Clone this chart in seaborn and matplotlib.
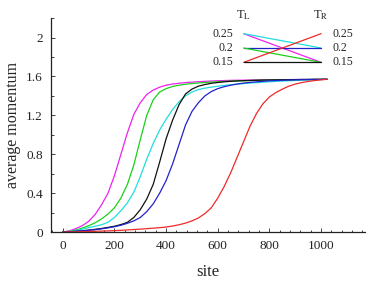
import matplotlib
matplotlib.use("Agg")
import matplotlib.pyplot as plt
import seaborn as sns
import pandas as pd
from matplotlib.ticker import MultipleLocator, FormatStrFormatter

# lattice sites where the momentum profile was read
site = list(range(0, 1001, 25)) + [1023]

# average momentum profiles, one per (T_L, T_R) pair
mom_magenta = [0, 0.012, 0.035, 0.065, 0.11, 0.18, 0.28, 0.40, 0.58, 0.80,
               1.02, 1.21, 1.33, 1.415, 1.46, 1.49, 1.51, 1.522, 1.53, 1.537,
               1.542, 1.546, 1.55, 1.553, 1.556, 1.558, 1.56, 1.561, 1.562, 1.563,
               1.564, 1.565, 1.566, 1.567, 1.567, 1.568, 1.568, 1.569, 1.569, 1.570,
               1.570, 1.571]
mom_green = [0, 0.008, 0.02, 0.04, 0.065, 0.095, 0.135, 0.185, 0.25, 0.35,
             0.49, 0.69, 0.95, 1.20, 1.36, 1.44, 1.475, 1.497, 1.51, 1.52,
             1.527, 1.533, 1.538, 1.542, 1.546, 1.549, 1.552, 1.554, 1.556, 1.558,
             1.56, 1.561, 1.562, 1.564, 1.565, 1.566, 1.567, 1.568, 1.569, 1.570,
             1.570, 1.571]
mom_cyan = [0, 0.005, 0.015, 0.03, 0.045, 0.06, 0.075, 0.10, 0.15, 0.22,
            0.30, 0.41, 0.57, 0.75, 0.91, 1.05, 1.16, 1.26, 1.34, 1.40,
            1.44, 1.465, 1.48, 1.49, 1.50, 1.508, 1.515, 1.521, 1.527, 1.532,
            1.537, 1.541, 1.545, 1.549, 1.553, 1.556, 1.559, 1.562, 1.565, 1.567,
            1.569, 1.571]
mom_black = [0, 0.003, 0.008, 0.013, 0.02, 0.028, 0.037, 0.048, 0.06, 0.077,
             0.10, 0.15, 0.23, 0.34, 0.49, 0.72, 0.96, 1.15, 1.31, 1.42,
             1.47, 1.50, 1.517, 1.53, 1.538, 1.545, 1.55, 1.554, 1.557, 1.559,
             1.561, 1.563, 1.564, 1.565, 1.566, 1.567, 1.568, 1.569, 1.569, 1.570,
             1.570, 1.571]
mom_blue = [0, 0.003, 0.007, 0.012, 0.018, 0.025, 0.033, 0.043, 0.055, 0.07,
            0.09, 0.115, 0.15, 0.21, 0.29, 0.40, 0.53, 0.70, 0.90, 1.10,
            1.24, 1.33, 1.40, 1.445, 1.475, 1.495, 1.51, 1.522, 1.532, 1.539,
            1.545, 1.55, 1.555, 1.558, 1.561, 1.563, 1.565, 1.567, 1.568, 1.569,
            1.570, 1.571]
mom_red = [0, 0.001, 0.002, 0.004, 0.006, 0.008, 0.01, 0.012, 0.015, 0.018,
           0.022, 0.026, 0.03, 0.035, 0.04, 0.045, 0.052, 0.062, 0.075, 0.092,
           0.115, 0.145, 0.19, 0.25, 0.35, 0.47, 0.61, 0.77, 0.93, 1.09,
           1.22, 1.32, 1.39, 1.435, 1.47, 1.50, 1.522, 1.537, 1.549, 1.558,
           1.565, 1.571]

# curve name -> (T_L, T_R)
temps = {
    "magenta": (0.25, 0.15),
    "cyan": (0.25, 0.2),
    "blue": (0.2, 0.2),
    "green": (0.2, 0.15),
    "red": (0.15, 0.25),
    "black": (0.15, 0.15),
}
palette = {
    "magenta": "#ee22ee",
    "green": "#1bd01b",
    "cyan": "#22dddd",
    "black": "#111111",
    "blue": "#2222cc",
    "red": "#ee2a2a",
}
t_labels = ["0.25", "0.2", "0.15"]

curves = {
    "magenta": mom_magenta, "green": mom_green, "cyan": mom_cyan,
    "black": mom_black, "blue": mom_blue, "red": mom_red,
}
df = pd.concat(
    [pd.DataFrame({"site": site, "momentum": v, "curve": k}) for k, v in curves.items()],
    ignore_index=True,
)

sns.set_style("ticks")
plt.rcParams["font.family"] = ["Liberation Serif", "DejaVu Serif"]
plt.rcParams["mathtext.fontset"] = "stix"

fig = plt.figure(figsize=(3.68, 2.83), dpi=100)
ax = fig.add_axes([0.139, 0.180, 0.853, 0.756])

sns.lineplot(data=df, x="site", y="momentum", hue="curve", palette=palette,
             legend=False, linewidth=0.9, ax=ax)

ax.set_xlim(-45, 1170)
ax.set_ylim(0, 2.2)
ax.xaxis.set_major_locator(MultipleLocator(200))
ax.xaxis.set_minor_locator(MultipleLocator(40))
ax.yaxis.set_major_locator(MultipleLocator(0.4))
ax.yaxis.set_minor_locator(MultipleLocator(0.2))
ax.yaxis.set_major_formatter(FormatStrFormatter("%g"))
ax.set_xticks(range(0, 1001, 200))
ax.tick_params(which="both", direction="in", labelsize=9.5, colors="#222222",
               labelcolor="#222222", width=0.6)
ax.tick_params(which="major", length=3, pad=6)
ax.tick_params(which="minor", length=1.8)
for s in ["left", "bottom"]:
    ax.spines[s].set_linewidth(0.9)
    ax.spines[s].set_color("#222222")
sns.despine(ax=ax)

ax.set_xlabel("site", fontsize=12, labelpad=8)
ax.set_ylabel("average momentum", fontsize=11.5, labelpad=4)

# temperature key drawn inside the plot, T_L on the left, T_R on the right
def level(t):
    return 1.745 + (t - 0.15) * 2.95

key_left, key_right = 700, 1000
for name, (tl, tr) in temps.items():
    ax.plot([key_left, key_right], [level(tl), level(tr)], color=palette[name],
            lw=0.9, clip_on=False)
for lab in t_labels:
    t = float(lab)
    ax.text(key_left - 40, level(t), lab, ha="right", va="center", fontsize=8.5)
    ax.text(key_right + 45, level(t), lab, ha="left", va="center", fontsize=8.5)
ax.text(key_left, 2.23, r"T$_{\rm L}$", ha="center", va="center", fontsize=9,
        clip_on=False)
ax.text(key_right, 2.23, r"T$_{\rm R}$", ha="center", va="center", fontsize=9,
        clip_on=False)

fig.savefig("out.png", dpi=100)
